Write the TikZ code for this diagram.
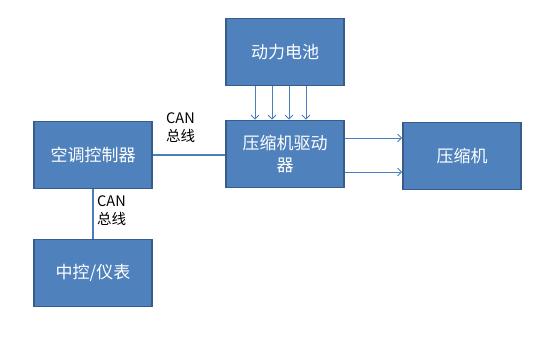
\documentclass[tikz,border=0pt]{standalone}
\usepackage{fontspec}
\setmainfont{Noto Sans CJK SC}
\usetikzlibrary{arrows.meta}
\definecolor{boxfill}{RGB}{79,129,189}
\definecolor{boxline}{RGB}{56,93,138}
\definecolor{wire}{RGB}{74,126,187}

\begin{document}
\begin{tikzpicture}[x=1pt,y=-1pt,
  blk/.style={draw=boxline,fill=boxfill,line width=1.6pt,minimum width=118pt,
    minimum height=67pt,inner sep=0pt,text=white,align=center,
    font=\fontsize{17}{22}\selectfont},
  bus/.style={draw=wire,line width=1.6pt},
  feed/.style={draw=wire,line width=0.9pt,-{Straight Barb[length=4pt,width=8pt]}},
  lbl/.style={inner sep=0pt,align=left,font=\fontsize{14.5}{18}\selectfont}]
\useasboundingbox (0,0) rectangle (540,345);
% blocks
\node[blk] (dianchi) at (285,52) {动力电池};
\node[blk] (qudong) at (285,154) {压缩机驱动\\器};
\node[blk] (yasuoji) at (462,156) {压缩机};
\node[blk] (kongtiao) at (93,155) {空调控制器};
\node[blk] (zhongkong) at (93,273) {中控/仪表};
% CAN bus
\draw[bus] (kongtiao.east) -- (kongtiao.east -| qudong.west);
\draw[bus] (kongtiao.south) -- (zhongkong.north);
\node[lbl,anchor=north west] (can1) at (166,112) {CAN\\总线};
\node[lbl,anchor=north west] (can2) at (97,195) {CAN\\总线};
% power and drive
\foreach \x in {255,272,289,306}
  \draw[feed] (dianchi.south -| \x,0) -- (qudong.north -| \x,0);
\foreach \y in {138,172}
  \draw[feed] (qudong.east |- 0,\y) -- (yasuoji.west |- 0,\y);
\end{tikzpicture}
\end{document}
